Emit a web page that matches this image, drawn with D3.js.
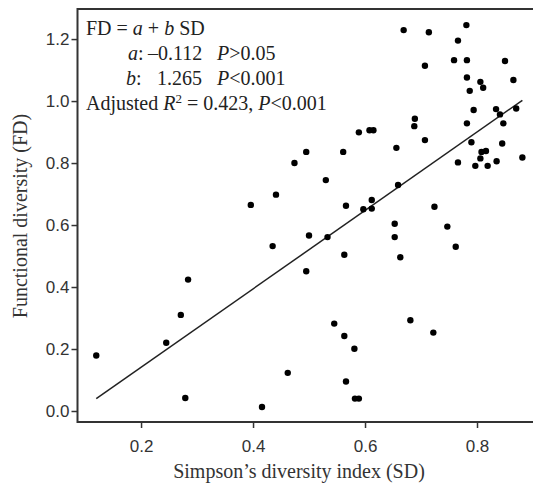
<!DOCTYPE html>
<html><head><meta charset="utf-8">
<script src="https://cdn.jsdelivr.net/npm/d3@7"></script>
<style>html,body{margin:0;padding:0;background:#fff;overflow:hidden}</style>
</head><body>
<svg id="chart" width="533" height="486"></svg>
<script>
// Data: Simpson's diversity index (SD) and Functional diversity (FD)
const sd = [0.120,0.245,0.271,0.284,0.279,0.396,0.416,0.435,0.441,0.462,
  0.474,0.495,0.495,0.500,0.530,0.533,0.545,0.561,0.563,0.563,
  0.566,0.566,0.581,0.582,0.589,0.589,0.597,0.608,0.615,0.612,
  0.612,0.656,0.659,0.653,0.653,0.663,0.669,0.681,0.689,0.688,
  0.707,0.707,0.714,0.722,0.724,0.747,0.759,0.762,0.766,0.766,
  0.781,0.782,0.782,0.782,0.787,0.794,0.790,0.797,0.806,0.811,
  0.806,0.808,0.816,0.819,0.835,0.834,0.841,0.847,0.845,0.850,
  0.865,0.870,0.881];
const fd = [0.179,0.220,0.310,0.424,0.042,0.665,0.013,0.532,0.698,0.123,
  0.800,0.836,0.451,0.566,0.745,0.561,0.282,0.836,0.504,0.242,
  0.662,0.095,0.201,0.040,0.040,0.899,0.651,0.906,0.906,0.681,
  0.653,0.849,0.729,0.604,0.561,0.496,1.229,0.293,0.943,0.919,
  0.874,1.114,1.222,0.253,0.659,0.595,1.132,0.530,1.195,0.802,
  1.245,1.132,1.076,0.928,1.033,0.971,0.867,0.791,1.062,1.043,
  0.815,0.836,0.839,0.791,0.806,0.974,0.957,0.928,0.863,1.129,
  1.068,0.976,0.818];
const xTicks = [0.2,0.4,0.6,0.8];
const yTicks = [0.0,0.2,0.4,0.6,0.8,1.0,1.2];
const coefA = -0.112, coefB = 1.265;

const svg = d3.select("#chart");
const L = 77.5, R = 540, T = 9, B = 422;
const x = d3.scaleLinear().domain([0.0865, 0.9125]).range([L, R]);
const y = d3.scaleLinear().domain([-0.0355, 1.297]).range([B, T]);

// frame
svg.append("rect").attr("x", L).attr("y", T).attr("width", R - L).attr("height", B - T)
  .attr("fill", "none").attr("stroke", "#333").attr("stroke-width", 2);

// axes
const xAxis = svg.append("g").attr("transform", `translate(0,${B})`)
  .call(d3.axisBottom(x).tickValues(xTicks).tickFormat(d3.format(".1f")).tickSize(6).tickPadding(12));
const yAxis = svg.append("g").attr("transform", `translate(${L},0)`)
  .call(d3.axisLeft(y).tickValues(yTicks).tickFormat(d3.format(".1f")).tickSize(6).tickPadding(2));
[xAxis, yAxis].forEach(g => {
  g.select(".domain").remove();
  g.selectAll(".tick line").attr("stroke", "#333").attr("stroke-width", 1.5);
  g.selectAll(".tick text").attr("fill", "#333")
    .style("font-family", "'Liberation Sans', Arial, sans-serif").style("font-size", "17px");
});

// regression line
const xr = d3.extent(sd);
svg.append("line")
  .attr("x1", x(xr[0])).attr("y1", y(coefA + coefB * xr[0]))
  .attr("x2", x(xr[1])).attr("y2", y(coefA + coefB * xr[1]))
  .attr("stroke", "#222").attr("stroke-width", 1.5);

// points
svg.append("g").selectAll("circle").data(sd.map((v, i) => [v, fd[i]])).join("circle")
  .attr("cx", d => x(d[0])).attr("cy", d => y(d[1])).attr("r", 3.2).attr("fill", "#000");

// annotation
const serif = "'Liberation Serif', 'Times New Roman', serif";
const ann = svg.append("g").style("font-family", serif).style("font-size", "20px").attr("fill", "#222");
function line(parts, x0, yb) {
  const t = ann.append("text").attr("x", x0).attr("y", yb);
  parts.forEach(p => {
    const s = t.append("tspan").text(p.t);
    if (p.i) s.style("font-style", "italic");
    if (p.x !== undefined) s.attr("x", p.x);
    if (p.dy !== undefined) s.attr("dy", p.dy);
    if (p.fs) s.style("font-size", p.fs);
  });
}
line([{t:"FD = "},{t:"a",i:1},{t:" + "},{t:"b",i:1},{t:" SD"}], 86, 35);
line([{t:"a",i:1},{t:":"},{t:"\u20130.112",x:148},{t:"P",i:1,x:217},{t:">0.05"}], 128, 60);
line([{t:"b",i:1},{t:":"},{t:"1.265",x:157},{t:"P",i:1,x:217},{t:"<0.001"}], 126, 85);
line([{t:"Adjusted "},{t:"R",i:1},{t:"2",fs:"13px",dy:-7},{t:" = 0.423, ",dy:7},{t:"P",i:1},{t:"<0.001"}], 86, 110);

// axis titles
svg.append("text").attr("x", 299).attr("y", 478).attr("text-anchor", "middle")
  .style("font-family", serif).style("font-size", "20px").attr("fill", "#333")
  .text("Simpson\u2019s diversity index (SD)");
svg.append("text").attr("transform", "translate(27,216) rotate(-90)").attr("text-anchor", "middle")
  .style("font-family", serif).style("font-size", "20px").attr("fill", "#333")
  .text("Functional diversity (FD)");
</script>
</body></html>
